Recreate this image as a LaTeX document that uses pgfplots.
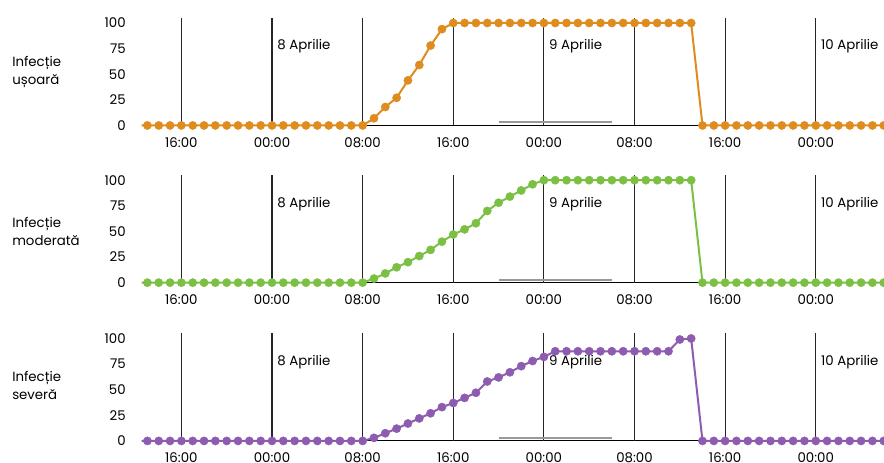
\documentclass[border=0pt]{standalone}
\usepackage{pgfplots}
\pgfplotsset{compat=1.18}
\usepackage{fontspec}
\setmainfont{Poppins}
\definecolor{corange}{HTML}{DE8C1E}
\definecolor{cgreen}{HTML}{7BC043}
\definecolor{cpurple}{HTML}{8D5BB0}
\tikzset{
 lab/.style={anchor=west, align=left, inner sep=0pt, xshift=-97.3pt, font=\fontsize{10}{13.5}\selectfont},
 day/.style={anchor=west, inner sep=0pt, xshift=3.8pt, font=\fontsize{10}{12}\selectfont},
 vlines/.style={black!85, line width=0.8pt, ycomb, mark=none},
 night/.style={black!40, line width=1.5pt, mark=none},
 series/.style={line width=1.5pt, mark=*, mark size=3.1pt},
}
\pgfplotsset{
 panel/.style={
  scale only axis, width=556.5pt, height=85.3pt,
  xmin=12.5, xmax=78, ymin=-6, ymax=105,
  axis line style={draw=none},
  major tick length=0pt,
  xtick={16,24,32,40,48,56,64,72},
  xticklabels={16:00,00:00,08:00,16:00,00:00,08:00,16:00,00:00},
  ytick={0,25,50,75,100},
  extra y ticks={0}, extra y tick labels={},
  extra y tick style={grid=major, major grid style={black, line width=0.8pt}},
  tick label style={font=\fontsize{10}{12}\selectfont},
  /pgf/number format/assume math mode=true,
  yticklabel style={xshift=-8.5pt},
  xticklabel style={yshift=-1pt},
  anchor=south west,
  clip mode=individual,
 },
}
\begin{document}
\begin{tikzpicture}
\path[use as bounding box] (-106.3pt,98.7pt) rectangle (556.7pt,-248.5pt);
% Panel 1
\begin{axis}[panel, at={(0,0)}]
\addplot[vlines] coordinates {(16,105)(24,105)(32,105)(40,105)(48,105)(56,105)(64,105)(72,105)};
\addplot[night] coordinates {(44,3)(54,3)};
\addplot[series, corange, mark options={fill=corange, draw=corange, line width=0.3pt}] coordinates {
(12,0)(13,0)(14,0)(15,0)(16,0)(17,0)(18,0)(19,0)(20,0)(21,0)(22,0)(23,0)(24,0)(25,0)(26,0)(27,0)(28,0)(29,0)(30,0)(31,0)(32,0)
(33,7)(34,18)(35,27)(36,44)(37,59)(38,78)(39,94)
(40,100)(41,100)(42,100)(43,100)(44,100)(45,100)(46,100)(47,100)(48,100)(49,100)(50,100)(51,100)(52,100)(53,100)(54,100)(55,100)(56,100)(57,100)(58,100)(59,100)(60,100)(61,100)
(62,0)(63,0)(64,0)(65,0)(66,0)(67,0)(68,0)(69,0)(70,0)(71,0)(72,0)(73,0)(74,0)(75,0)(76,0)(77,0)(78,0)};
\node[lab] at (axis cs:12.5,52) {Infecție\\ușoară};
\node[day] at (axis cs:24,77) {8 Aprilie};
\node[day] at (axis cs:48,77) {9 Aprilie};
\node[day] at (axis cs:72,77) {10 Aprilie};
\end{axis}
% Panel 2
\begin{axis}[panel, at={(0,-117.9pt)}]
\addplot[vlines] coordinates {(16,105)(24,105)(32,105)(40,105)(48,105)(56,105)(64,105)(72,105)};
\addplot[night] coordinates {(44,3)(54,3)};
\addplot[series, cgreen, mark options={fill=cgreen, draw=cgreen, line width=0.3pt}] coordinates {
(12,0)(13,0)(14,0)(15,0)(16,0)(17,0)(18,0)(19,0)(20,0)(21,0)(22,0)(23,0)(24,0)(25,0)(26,0)(27,0)(28,0)(29,0)(30,0)(31,0)(32,0)
(33,4)(34,9)(35,15)(36,20)(37,26)(38,32)(39,40)(40,47)(41,52)(42,58)(43,70)(44,78)(45,84)(46,90)(47,96)
(48,100)(49,100)(50,100)(51,100)(52,100)(53,100)(54,100)(55,100)(56,100)(57,100)(58,100)(59,100)(60,100)(61,100)
(62,0)(63,0)(64,0)(65,0)(66,0)(67,0)(68,0)(69,0)(70,0)(71,0)(72,0)(73,0)(74,0)(75,0)(76,0)(77,0)(78,0)};
\node[lab] at (axis cs:12.5,50) {Infecție\\moderată};
\node[day] at (axis cs:24,77) {8 Aprilie};
\node[day] at (axis cs:48,77) {9 Aprilie};
\node[day] at (axis cs:72,77) {10 Aprilie};
\end{axis}
% Panel 3
\begin{axis}[panel, at={(0,-236.6pt)}]
\addplot[vlines] coordinates {(16,105)(24,105)(32,105)(40,105)(48,105)(56,105)(64,105)(72,105)};
\addplot[night] coordinates {(44,3)(54,3)};
\addplot[series, cpurple, mark options={fill=cpurple, draw=cpurple, line width=0.3pt}] coordinates {
(12,0)(13,0)(14,0)(15,0)(16,0)(17,0)(18,0)(19,0)(20,0)(21,0)(22,0)(23,0)(24,0)(25,0)(26,0)(27,0)(28,0)(29,0)(30,0)(31,0)(32,0)
(33,3)(34,7.5)(35,12)(36,17)(37,22)(38,27)(39,33)(40,37)(41,42)(42,47)(43,58)(44,62)(45,67)(46,73)(47,78)(48,82)
(49,87.5)(50,87.5)(51,87.5)(52,87.5)(53,87.5)(54,87.5)(55,87.5)(56,87.5)(57,87.5)(58,87.5)(59,87.5)(60,99)(61,100)
(62,0)(63,0)(64,0)(65,0)(66,0)(67,0)(68,0)(69,0)(70,0)(71,0)(72,0)(73,0)(74,0)(75,0)(76,0)(77,0)(78,0)};
\node[lab] at (axis cs:12.5,54.5) {Infecție\\severă};
\node[day] at (axis cs:24,77) {8 Aprilie};
\node[day] at (axis cs:48,77) {9 Aprilie};
\node[day] at (axis cs:72,77) {10 Aprilie};
\end{axis}
\end{tikzpicture}
\end{document}
